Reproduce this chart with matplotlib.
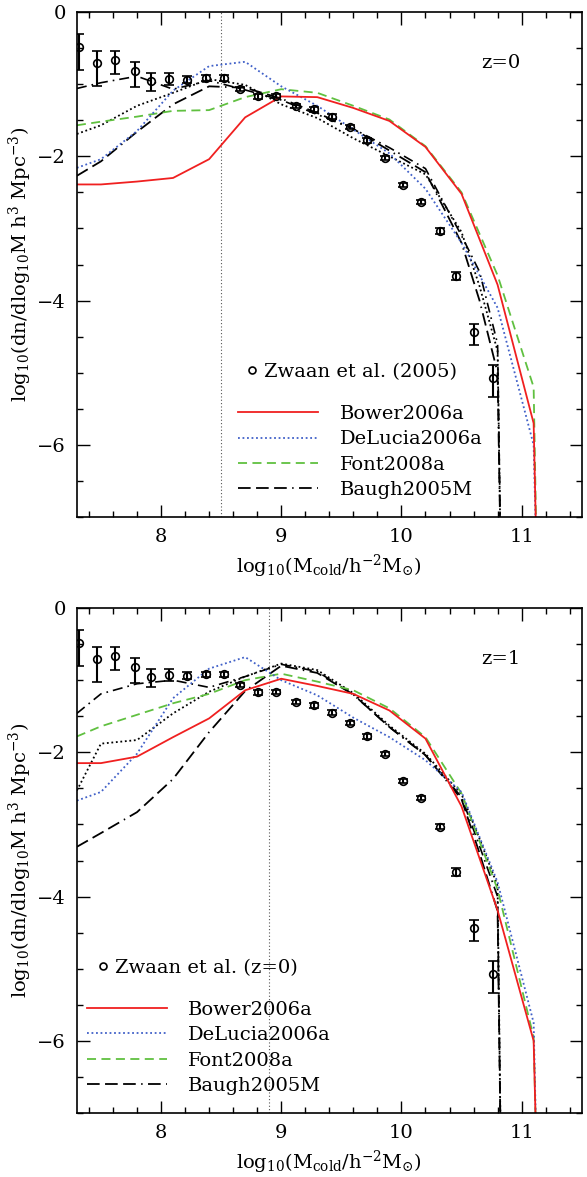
import matplotlib
matplotlib.use("Agg")
import matplotlib.pyplot as plt
from matplotlib.lines import Line2D
from matplotlib.ticker import MultipleLocator

plt.rcParams['font.family'] = ['DejaVu Serif']
plt.rcParams['mathtext.fontset'] = 'dejavuserif'

# Zwaan et al. (2005) HI mass function (z=0), shown in both panels
mass_obs = [7.32, 7.47, 7.62, 7.78, 7.92, 8.07, 8.22, 8.37, 8.52, 8.66, 8.81, 8.96,
            9.12, 9.27, 9.42, 9.57, 9.71, 9.86, 10.01, 10.16, 10.32, 10.45, 10.60, 10.76]
phi_obs = [-0.49, -0.71, -0.67, -0.82, -0.96, -0.93, -0.94, -0.92, -0.92, -1.07, -1.17, -1.16,
           -1.30, -1.35, -1.45, -1.59, -1.78, -2.02, -2.40, -2.63, -3.03, -3.66, -4.44, -5.07]
err_hi = [0.19, 0.17, 0.13, 0.13, 0.12, 0.08, 0.05, 0.04, 0.04, 0.03, 0.03, 0.03,
          0.03, 0.03, 0.03, 0.03, 0.03, 0.03, 0.03, 0.03, 0.04, 0.05, 0.11, 0.18]
err_lo = [0.32, 0.31, 0.19, 0.22, 0.14, 0.08, 0.05, 0.04, 0.04, 0.03, 0.03, 0.03,
          0.03, 0.03, 0.03, 0.03, 0.03, 0.03, 0.03, 0.03, 0.04, 0.05, 0.17, 0.26]

# model grid
mass_a = [7.3, 7.5, 7.8, 8.1, 8.4, 8.7, 9.0, 9.3, 9.6, 9.9, 10.2, 10.5, 10.8, 11.1, 11.13]
mass_b = [7.3, 7.5, 7.8, 8.1, 8.4, 8.7, 9.0, 9.3, 9.6, 9.9, 10.2, 10.5, 10.65, 10.8, 10.83]

# z = 0
bower_z0 = [-2.39, -2.39, -2.35, -2.30, -2.04, -1.46, -1.17, -1.18, -1.33, -1.51, -1.87, -2.52, -3.78, -5.70, -8]
delucia_z0 = [-2.16, -2.04, -1.65, -1.09, -0.75, -0.69, -1.03, -1.30, -1.63, -1.96, -2.45, -3.20, -4.10, -6.00, -8]
font_z0 = [-1.57, -1.52, -1.45, -1.37, -1.36, -1.18, -1.07, -1.12, -1.30, -1.49, -1.86, -2.50, -3.65, -5.20, -8]
baugh_z0 = [-2.27, -2.07, -1.66, -1.28, -1.03, -1.05, -1.20, -1.40, -1.62, -1.92, -2.22, -3.20, -4.00, -5.00, -8]
dashdot_z0 = [-1.06, -0.98, -0.89, -1.07, -0.95, -1.08, -1.22, -1.42, -1.62, -1.88, -2.17, -3.10, -3.60, -4.60, -8]
dotted_z0 = [-1.69, -1.57, -1.30, -1.12, -0.93, -1.01, -1.28, -1.47, -1.75, -2.00, -2.25, -3.05, -3.80, -4.70, -8]

# z = 1
bower_z1 = [-2.15, -2.15, -2.06, -1.79, -1.53, -1.14, -0.98, -1.08, -1.19, -1.42, -1.81, -2.75, -4.19, -6.00, -8]
delucia_z1 = [-2.67, -2.55, -2.02, -1.25, -0.84, -0.68, -1.00, -1.21, -1.52, -1.79, -2.11, -2.55, -3.80, -5.75, -8]
font_z1 = [-1.78, -1.64, -1.48, -1.32, -1.19, -1.00, -0.91, -1.02, -1.14, -1.39, -1.79, -2.57, -3.90, -5.95, -8]
baugh_z1 = [-3.31, -3.12, -2.83, -2.37, -1.72, -1.15, -0.80, -0.90, -1.20, -1.65, -2.04, -2.65, -3.40, -4.20, -8]
dashdot_z1 = [-1.46, -1.19, -1.05, -1.00, -1.10, -0.95, -0.78, -0.88, -1.20, -1.65, -2.04, -2.62, -3.30, -4.00, -8]
dotted_z1 = [-2.53, -1.88, -1.83, -1.46, -1.16, -0.95, -0.77, -0.86, -1.18, -1.63, -2.02, -2.58, -3.20, -3.85, -8]

RED = '#f02020'
BLUE = '#4060c8'
GREEN = '#60c040'
BAUGH_LS = (0, (7, 3, 7, 3, 7, 3, 0.8, 3))
FS = 14


def panel(ax, bower, delucia, font, baugh, dashdot, dotted, zlabel, cut, obs_label, leg_pos):
    ax.axvline(cut, color='#555555', ls=(0, (1, 2)), lw=0.8)
    ax.plot(mass_b, dotted, color='k', ls=(0, (1, 1.5)), lw=1.3)
    ax.plot(mass_b, dashdot, color='k', ls=(0, (6, 3, 1, 3)), lw=1.2)
    ax.plot(mass_b, baugh, color='k', ls=BAUGH_LS, lw=1.3)
    ax.plot(mass_a, font, color=GREEN, ls=(0, (5, 3)), lw=1.3)
    ax.plot(mass_a, delucia, color=BLUE, ls=(0, (1, 1.5)), lw=1.3)
    ax.plot(mass_a, bower, color=RED, ls='-', lw=1.3)
    ax.errorbar(mass_obs, phi_obs, yerr=[err_lo, err_hi], fmt='o', mfc='none', mec='k',
                ms=5.5, mew=1.2, ecolor='k', elinewidth=1.5, capsize=3.5, capthick=1.5)

    ax.set_xlim(7.3, 11.5)
    ax.set_ylim(-7, 0)
    ax.xaxis.set_major_locator(MultipleLocator(1))
    ax.xaxis.set_minor_locator(MultipleLocator(0.2))
    ax.yaxis.set_major_locator(MultipleLocator(2))
    ax.yaxis.set_minor_locator(MultipleLocator(0.5))
    ax.tick_params(which='both', direction='in', top=True, right=True, labelsize=FS, pad=8)
    ax.tick_params(which='major', length=9, width=1)
    ax.tick_params(which='minor', length=4.5, width=1)
    for s in ax.spines.values():
        s.set_linewidth(1.2)
    ax.set_xlabel(r'$\mathrm{log_{10}(M_{cold}/h^{-2}M_{\odot})}$', fontsize=FS, labelpad=5)
    ax.set_ylabel(r'$\mathrm{log_{10}(dn/dlog_{10}M\ h^{3}\ Mpc^{-3})}$', fontsize=FS, labelpad=2)
    ax.text(0.84, 0.90, zlabel, transform=ax.transAxes, fontsize=FS, ha='center', va='center')

    obs_handle = Line2D([], [], ls='none', marker='o', mfc='none', mec='k', ms=5, mew=1.2)
    leg1 = ax.legend([obs_handle], [obs_label], loc='upper left', bbox_to_anchor=leg_pos[0],
                     frameon=False, fontsize=FS, handlelength=0.6, handletextpad=0.3,
                     borderpad=0, borderaxespad=0)
    ax.add_artist(leg1)
    handles = [Line2D([], [], color=RED, ls='-', lw=1.3),
               Line2D([], [], color=BLUE, ls=(0, (1, 1.5)), lw=1.3),
               Line2D([], [], color=GREEN, ls=(0, (5, 3)), lw=1.3),
               Line2D([], [], color='k', ls=BAUGH_LS, lw=1.3)]
    labels = ['Bower2006a', 'DeLucia2006a', 'Font2008a', 'Baugh2005M']
    ax.legend(handles, labels, loc='upper left', bbox_to_anchor=leg_pos[1], frameon=False,
              fontsize=FS, handlelength=4.1, handletextpad=1.1, labelspacing=0.38,
              borderpad=0, borderaxespad=0)


fig = plt.figure(figsize=(5.87, 11.77), dpi=100)
ax1 = fig.add_axes([0.131, 0.5607, 0.860, 0.4291])
ax2 = fig.add_axes([0.131, 0.0544, 0.860, 0.4290])

panel(ax1, bower_z0, delucia_z0, font_z0, baugh_z0, dashdot_z0, dotted_z0, 'z=0', 8.5,
      'Zwaan et al. (2005)', [(0.335, 0.305), (0.32, 0.222)])
panel(ax2, bower_z1, delucia_z1, font_z1, baugh_z1, dashdot_z1, dotted_z1, 'z=1', 8.9,
      'Zwaan et al. (z=0)', [(0.04, 0.305), (0.02, 0.222)])

fig.savefig('out.png', dpi=100)
